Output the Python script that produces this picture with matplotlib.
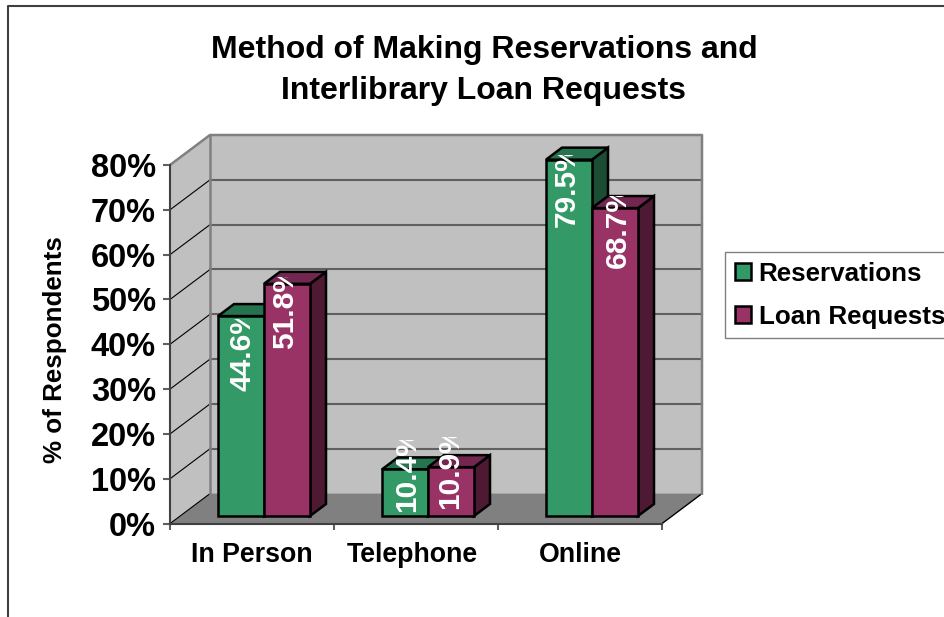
import matplotlib
matplotlib.use('Agg')
import matplotlib.pyplot as plt
from matplotlib.lines import Line2D
from matplotlib.patches import Polygon, Rectangle

plt.rcParams['font.family'] = ['Liberation Sans', 'DejaVu Sans']
plt.rcParams['font.weight'] = 'bold'

categories = ['In Person', 'Telephone', 'Online']
reservations = [44.6, 10.4, 79.5]
loan_requests = [51.8, 10.9, 68.7]
y_ticks = [0, 10, 20, 30, 40, 50, 60, 70, 80]

W, H = 945, 617
L, R, B, T = 170, 662, 523.6, 165
fig = plt.figure(figsize=(W / 100, H / 100), dpi=100)
ax = fig.add_axes([L / W, 1 - B / H, (R - L) / W, (B - T) / H])
ax.set_xlim(0, 3)
ax.set_ylim(0, 80)
ax.patch.set_visible(False)
for s in ax.spines.values():
    s.set_visible(False)

# depth offsets in data units
px_x = 3 / (R - L)
px_y = 80 / (B - T)
wall_dx, wall_dy = 40 * px_x, 30 * px_y
bar_dx, bar_dy = 16 * px_x, 12 * px_y
lift_x, lift_y = 12 * px_x, 7.6 * px_y
bar_w = 46 * px_x
grid_col = '#606060'
wall_edge = '#808080'

# Excel placed the rotated labels oddly: start below the bar top and sideways nudge, in pixels
label_drop = [[75, 43, 67], [65, 42, 60]]
label_nudge = [[2, 2, -2], [-2, -1, 3]]
label_len = 72


def poly(pts, **kw):
    kw.setdefault('clip_on', False)
    ax.add_patch(Polygon(pts, closed=True, **kw))


# walls and floor
poly([(0, 0), (wall_dx, wall_dy), (wall_dx, 80 + wall_dy), (0, 80)], fc='#C0C0C0', ec='none', zorder=1)
poly([(wall_dx, wall_dy), (3 + wall_dx, wall_dy), (3 + wall_dx, 80 + wall_dy), (wall_dx, 80 + wall_dy)],
     fc='#C0C0C0', ec='none', zorder=1)
poly([(0, 0), (3, 0), (3 + wall_dx, wall_dy), (wall_dx, wall_dy)], fc='#808080', ec='none', zorder=1)

for v in y_ticks[1:-1]:
    ax.plot([0, wall_dx], [v, v + wall_dy], color='black', lw=0.8, clip_on=False, zorder=2)
    ax.plot([wall_dx, 3 + wall_dx], [v + wall_dy, v + wall_dy], color=grid_col, lw=1.5, clip_on=False, zorder=2)
ax.plot([0, wall_dx], [0, wall_dy], color='black', lw=0.8, clip_on=False, zorder=2)
ax.plot([3, 3 + wall_dx], [0, wall_dy], color='black', lw=1.0, clip_on=False, zorder=2)
ax.plot([0, wall_dx, 3 + wall_dx, 3 + wall_dx], [80, 80 + wall_dy, 80 + wall_dy, wall_dy],
        color=wall_edge, lw=1.8, clip_on=False, zorder=2)
ax.plot([wall_dx, wall_dx], [wall_dy, 80 + wall_dy], color=wall_edge, lw=1.8, clip_on=False, zorder=2)

# bars
colors = [('#339966', '#267350', '#1A4D33'), ('#993366', '#732650', '#4D1933')]
names = ['Reservations', 'Loan Requests']
z = 3
for i in range(len(categories)):
    for j, vals in enumerate([reservations, loan_requests]):
        v = vals[i]
        x0 = i + lift_x + (j - 1) * bar_w + 82 * px_x
        front, top, side = colors[j]
        y0 = lift_y
        y1 = v + lift_y
        x1 = x0 + bar_w
        ec = dict(ec='black', lw=1.8, joinstyle='miter')
        poly([(x1, y0), (x1 + bar_dx, y0 + bar_dy), (x1 + bar_dx, y1 + bar_dy), (x1, y1)], fc=side, zorder=z, **ec)
        poly([(x0, y1), (x1, y1), (x1 + bar_dx, y1 + bar_dy), (x0 + bar_dx, y1 + bar_dy)], fc=top, zorder=z, **ec)
        ax.bar(x0, v, bar_w, bottom=y0, align='edge', color=front, edgecolor='black', lw=1.8, zorder=z + 0.5,
               label=names[j] if i == 0 else None, clip_on=False)

# data labels are clipped at the top like the original
for i in range(len(categories)):
    for j, vals in enumerate([reservations, loan_requests]):
        v = vals[i]
        x0 = i + lift_x + (j - 1) * bar_w + 82 * px_x
        start = v + lift_y - label_drop[j][i] * px_y
        xc = x0 + bar_w / 2 + label_nudge[j][i] * px_x
        t = ax.text(xc, start, f'{v}%', rotation=90, color='white', fontsize=21.5,
                    ha='center', va='bottom', zorder=10)
        t.set_clip_on(True)
        t.set_clip_path(Rectangle((x0 - 10 * px_x, start - 3 * px_y), bar_w + 20 * px_x, (label_len + 3) * px_y,
                                  transform=ax.transData))

# axes
ax.plot([0, 0], [0, 80], color='#404040', lw=1.5, clip_on=False, zorder=2)
ax.plot([0, 3], [0, 0], color='#404040', lw=1.5, clip_on=False, zorder=2)
ax.set_yticks(y_ticks)
ax.set_yticklabels([f'{v}%' for v in y_ticks], fontsize=23.5)
ax.set_xticks([0, 1, 2, 3])
ax.set_xticklabels([])
ax.set_xticks([0.5, 1.48, 2.5], minor=True)
ax.set_xticklabels(categories, minor=True, fontsize=19.3)
ax.tick_params(axis='y', length=5, width=1.5, color='#606060', pad=5)
ax.tick_params(axis='x', which='major', length=4, width=1.5, color='#606060')
ax.tick_params(axis='x', which='minor', length=0, pad=13)
ax.set_ylabel('% of Respondents', fontsize=18.7, fontweight='bold')
ax.yaxis.set_label_coords((67 - L) / (R - L), (B - 350) / (B - T))

fig.text(484 / W, 1 - 70.5 / H, 'Method of Making Reservations and\nInterlibrary Loan Requests', ha='center',
         va='center', fontsize=23, fontweight='bold', linespacing=1.52)

leg = ax.legend(loc='upper left', bbox_to_anchor=(725.5 / W, 1 - 252 / H), bbox_transform=fig.transFigure,
                fontsize=18.7, fancybox=False, framealpha=1, edgecolor='#808080', borderaxespad=0,
                handlelength=0.6, handleheight=0.6, handletextpad=0.3, labelspacing=0.72, borderpad=0.38)
leg.get_frame().set_linewidth(1.0)
leg.set_zorder(20)

# chart area border, only top and left are inside the crop
fig.add_artist(Line2D([8 / W, 8 / W, 1], [0, 1 - 6 / H, 1 - 6 / H], color='#404040', lw=1.5))

fig.savefig('out.png', dpi=100)
